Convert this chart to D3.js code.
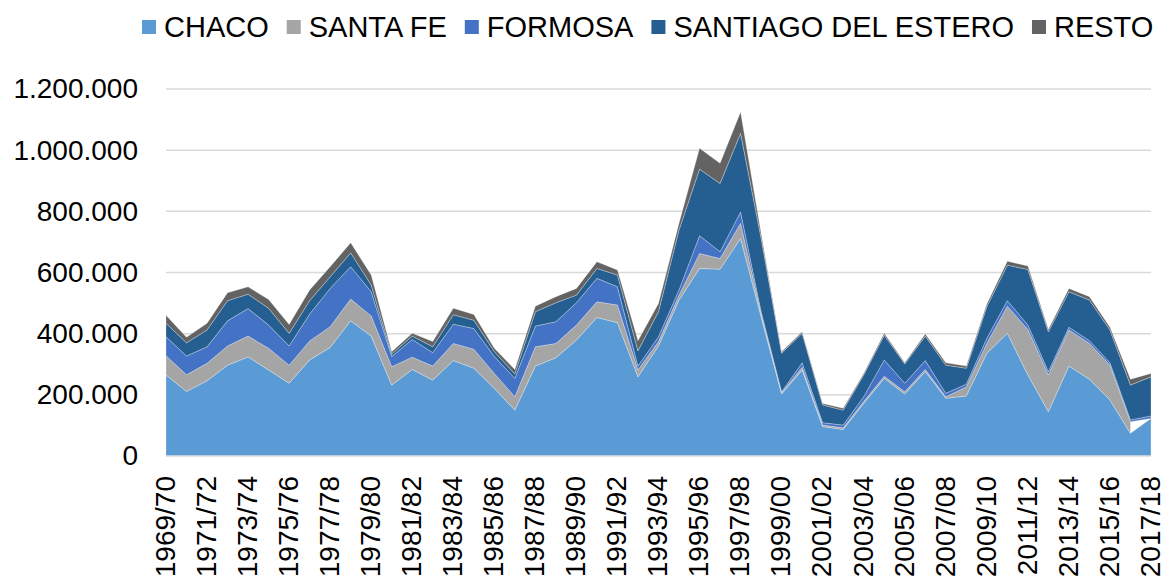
<!DOCTYPE html>
<html>
<head>
<meta charset="utf-8">
<script src="https://cdn.jsdelivr.net/npm/d3@7"></script>
<style>
  html, body { margin: 0; padding: 0; background: #fff; }
  svg { display: block; }
</style>
</head>
<body>
<div id="vis"></div>
<script>
// seasons (campañas)
const seasons = [
  "1969/70", "1970/71", "1971/72", "1972/73", "1973/74", "1974/75", "1975/76", "1976/77",
  "1977/78", "1978/79", "1979/80", "1980/81", "1981/82", "1982/83", "1983/84", "1984/85",
  "1985/86", "1986/87", "1987/88", "1988/89", "1989/90", "1990/91", "1991/92", "1992/93",
  "1993/94", "1994/95", "1995/96", "1996/97", "1997/98", "1998/99", "1999/00", "2000/01",
  "2001/02", "2002/03", "2003/04", "2004/05", "2005/06", "2006/07", "2007/08", "2008/09",
  "2009/10", "2010/11", "2011/12", "2012/13", "2013/14", "2014/15", "2015/16", "2016/17",
  "2017/18"
]

// values, in thousands
const chaco = [
  265, 211, 246, 297, 324, 281, 238, 314, 355, 442, 392, 232, 283, 248, 312, 287,
  221, 150, 294, 321, 379, 453, 436, 259, 360, 510, 613, 611, 711, 455, 203, 281,
  96, 87, 172, 254, 203, 276, 189, 196, 336, 401, 265, 145, 294, 251, 183, 74, 123
]
const santaFe = [
  63, 55, 57, 63, 68, 71, 59, 62, 68, 71, 66, 60, 40, 46, 56, 62,
  49, 44, 63, 47, 49, 51, 58, 22, 14, 16, 49, 35, 50, 10, 4, 9,
  5, 5, 6, 7, 7, 7, 5, 30, 32, 89, 149, 120, 118, 117, 114, 38, null
]
const formosa = [
  62, 61, 54, 82, 90, 76, 63, 88, 125, 106, 79, 33, 58, 44, 63, 68,
  55, 60, 68, 71, 73, 77, 59, 13, 16, 17, 58, 22, 37, 8, 3, 15,
  8, 9, 16, 53, 28, 29, 11, 9, 17, 18, 14, 11, 9, 9, 8, 6, 8
]
const santiago = [
  44, 43, 55, 66, 47, 55, 41, 44, 38, 45, 22, 8, 11, 19, 31, 27,
  16, 14, 47, 62, 25, 32, 39, 50, 82, 196, 218, 223, 257, 240, 126, 96,
  58, 49, 71, 81, 63, 80, 92, 52, 103, 116, 182, 130, 116, 133, 107, 114, 128
]
const resto = [
  26, 18, 22, 26, 24, 29, 29, 35, 33, 33, 33, 8, 9, 17, 21, 19,
  11, 15, 18, 20, 22, 22, 16, 33, 27, 22, 68, 66, 70, 15, 5, 5,
  5, 6, 5, 6, 4, 7, 8, 7, 9, 13, 11, 8, 11, 11, 9, 19, 11
]

const seriesNames = ["CHACO", "SANTA FE", "FORMOSA", "SANTIAGO DEL ESTERO", "RESTO"]
const seriesValues = [chaco, santaFe, formosa, santiago, resto]
const seriesColours = ["#5B9BD5", "#A5A5A5", "#4472C4", "#255E91", "#636363"]

const yTicks = [0, 200000, 400000, 600000, 800000, 1000000, 1200000]

const width = 1169
const height = 578
const margin = ({ top: 89, right: 18, bottom: 122, left: 166 })
const fontFamily = "Arial, 'Liberation Sans', sans-serif"

// build table for d3.stack (raw values in units, null kept for gaps)
const table = seasons.map((s, i) => {
  const row = { season: s }
  seriesNames.forEach((n, k) => {
    const v = seriesValues[k][i]
    row[n] = v == null ? null : v * 1000
  })
  return row
})

const stacked = d3.stack()
  .keys(seriesNames)
  .value((d, key) => d[key] == null ? 0 : d[key])(table)

const x = d3.scalePoint()
  .domain(seasons)
  .range([margin.left, width - margin.right])

const y = d3.scaleLinear()
  .domain([0, 1200000])
  .range([height - margin.bottom, margin.top])

const esLocale = d3.formatLocale({ decimal: ",", thousands: ".", grouping: [3], currency: ["$", ""] })
const yFormat = esLocale.format(",d")

const svg = d3.select("#vis").append("svg")
  .attr("width", width)
  .attr("height", height)
  .attr("viewBox", [0, 0, width, height])
  .attr("font-family", fontFamily)

// gridlines
svg.append("g")
  .selectAll("line")
  .data(yTicks.filter(t => t > 0))
  .join("line")
  .attr("x1", margin.left)
  .attr("x2", width - margin.right)
  .attr("y1", d => y(d))
  .attr("y2", d => y(d))
  .attr("stroke", "#d9d9d9")
  .attr("stroke-width", 1.5)

// areas
const area = k => d3.area()
  .defined((d, i) => seriesValues[k][i] != null)
  .x(d => x(d.data.season))
  .y0(d => y(d[0]))
  .y1(d => y(d[1]))

svg.append("g")
  .selectAll("path")
  .data(stacked)
  .join("path")
  .attr("fill", (d, k) => seriesColours[k])
  .attr("stroke", "#ffffff")
  .attr("stroke-opacity", 0.35)
  .attr("stroke-width", 0.8)
  .attr("stroke-linejoin", "round")
  .attr("d", (d, k) => area(k)(d))

// x axis line
svg.append("line")
  .attr("x1", margin.left)
  .attr("x2", width - margin.right)
  .attr("y1", y(0))
  .attr("y2", y(0))
  .attr("stroke", "#d9d9d9")
  .attr("stroke-width", 1.5)

// y axis labels
svg.append("g")
  .call(d3.axisLeft(y).tickValues(yTicks).tickFormat(yFormat).tickSize(0).tickPadding(0))
  .attr("transform", `translate(${margin.left - 28},0)`)
  .call(g => g.select(".domain").remove())
  .call(g => g.selectAll(".tick text")
    .attr("fill", "#000")
    .attr("font-size", 28)
    .attr("font-family", fontFamily))

// x axis labels, every other season
svg.append("g")
  .selectAll("text")
  .data(seasons.filter((s, i) => i % 2 === 0))
  .join("text")
  .attr("transform", d => `translate(${x(d) - 1},${y(0) + 20}) rotate(-90)`)
  .attr("text-anchor", "end")
  .attr("dy", "0.35em")
  .attr("font-size", 28)
  .attr("fill", "#000")
  .text(d => d)

// legend
const legend = svg.append("g")
  .attr("transform", "translate(142,27)")
let lx = 0
seriesNames.forEach((n, k) => {
  const item = legend.append("g").attr("transform", `translate(${lx},0)`)
  item.append("rect")
    .attr("x", 0)
    .attr("y", -7)
    .attr("width", 14)
    .attr("height", 14)
    .attr("fill", seriesColours[k])
  const t = item.append("text")
    .attr("x", 22)
    .attr("dy", "0.35em")
    .attr("font-size", 29)
    .attr("fill", "#000")
    .text(n)
  lx += 22 + t.node().getComputedTextLength() + 18
})
</script>
</body>
</html>
